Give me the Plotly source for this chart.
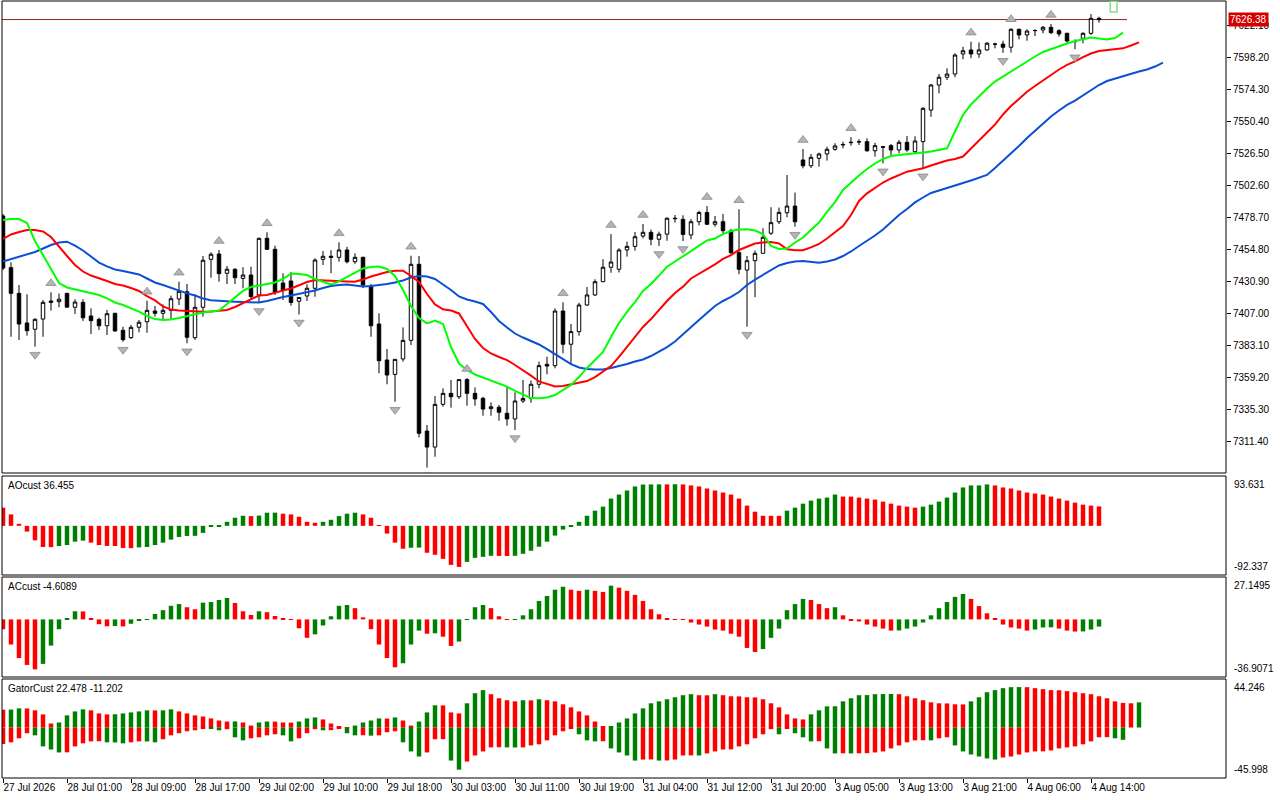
import plotly.graph_objects as go

# ---------------- data ----------------
time_labels = ["27 Jul 2026", "28 Jul 01:00", "28 Jul 09:00", "28 Jul 17:00", "29 Jul 02:00",
               "29 Jul 10:00", "29 Jul 18:00", "30 Jul 03:00", "30 Jul 11:00", "30 Jul 19:00",
               "31 Jul 04:00", "31 Jul 12:00", "31 Jul 20:00", "3 Aug 05:00", "3 Aug 13:00",
               "3 Aug 21:00", "4 Aug 06:00", "4 Aug 14:00"]
label_bars = list(range(0, 137, 8))

opens = [7479.7, 7441.1, 7421.9, 7399.8, 7395.1, 7402.7, 7416.2, 7415.7, 7421.9, 7411.5,
         7415.2, 7405.0, 7402.5, 7397.7, 7407.0, 7394.3, 7388.8, 7396.6, 7400.7, 7408.7,
         7407.0, 7409.2, 7417.7, 7423.1, 7388.8, 7411.5, 7447.3, 7451.3, 7436.9, 7439.9,
         7433.1, 7435.6, 7420.7, 7463.0, 7454.8, 7429.6, 7431.1, 7416.0, 7419.9, 7425.7,
         7447.3, 7449.6, 7448.8, 7454.3, 7445.5, 7448.8, 7427.4, 7399.0, 7372.1, 7361.4,
         7372.9, 7386.8, 7443.6, 7319.1, 7307.1, 7339.0, 7347.2, 7344.7, 7357.5, 7347.2,
         7343.5, 7335.8, 7336.8, 7332.3, 7328.1, 7341.5, 7343.4, 7354.0, 7368.9, 7367.9,
         7408.7, 7383.9, 7393.3, 7413.2, 7420.7, 7430.6, 7441.4, 7439.9, 7454.3, 7457.0,
         7464.7, 7467.5, 7462.3, 7466.1, 7478.0, 7477.2, 7465.5, 7475.4, 7482.3, 7473.5,
         7475.4, 7468.7, 7452.3, 7439.3, 7446.3, 7451.8, 7466.8, 7475.4, 7482.1, 7487.1,
         7521.5, 7517.2, 7522.8, 7526.0, 7529.5, 7532.7, 7534.4, 7535.2, 7535.2, 7528.4,
         7531.4, 7532.2, 7529.0, 7534.7, 7527.7, 7535.2, 7558.8, 7577.5, 7583.3, 7585.7,
         7600.7, 7603.7, 7600.7, 7603.7, 7608.1, 7608.1, 7605.7, 7619.1, 7614.9, 7618.1,
         7618.6, 7620.6, 7618.1, 7616.1, 7609.9, 7612.4, 7616.1, 7627.3]
highs = [7481.2, 7445.1, 7428.1, 7421.2, 7403.3, 7416.9, 7422.7, 7421.8, 7422.4, 7417.5,
         7417.5, 7410.7, 7403.7, 7409.5, 7407.3, 7397.0, 7398.3, 7402.0, 7416.4, 7412.5,
         7413.7, 7420.2, 7430.6, 7428.9, 7421.2, 7449.8, 7452.6, 7454.3, 7442.3, 7440.6,
         7441.4, 7441.8, 7463.5, 7467.5, 7457.5, 7436.9, 7437.9, 7419.0, 7428.7, 7448.1,
         7453.5, 7454.1, 7460.0, 7456.7, 7451.8, 7449.3, 7428.9, 7407.0, 7380.3, 7372.6,
         7396.5, 7450.0, 7449.8, 7323.6, 7345.2, 7351.0, 7357.2, 7357.7, 7358.7, 7351.7,
         7344.7, 7340.5, 7338.5, 7352.2, 7348.0, 7357.2, 7356.8, 7370.9, 7374.6, 7410.7,
         7415.2, 7399.0, 7414.9, 7426.6, 7432.4, 7447.4, 7466.2, 7455.6, 7460.5, 7467.7,
         7473.7, 7469.6, 7468.0, 7478.7, 7480.4, 7480.2, 7477.4, 7483.6, 7487.1, 7479.7,
         7481.2, 7470.1, 7484.7, 7449.8, 7453.9, 7470.5, 7486.2, 7486.0, 7510.3, 7497.1,
         7529.7, 7526.0, 7527.0, 7531.4, 7534.0, 7535.2, 7538.5, 7537.0, 7537.7, 7534.4,
         7532.0, 7533.5, 7536.4, 7539.4, 7539.2, 7560.9, 7578.3, 7585.7, 7590.0, 7601.2,
         7606.1, 7609.9, 7609.3, 7609.6, 7609.1, 7610.6, 7619.9, 7619.7, 7619.1, 7619.0,
         7621.6, 7623.1, 7619.1, 7616.6, 7611.6, 7616.9, 7630.5, 7628.5]
lows = [7439.3, 7389.5, 7387.1, 7390.3, 7382.1, 7389.5, 7409.0, 7411.5, 7411.3, 7406.5,
        7401.3, 7391.5, 7394.5, 7390.8, 7393.3, 7385.8, 7387.8, 7392.8, 7392.5, 7404.5,
        7402.7, 7402.0, 7413.2, 7384.6, 7387.1, 7404.5, 7433.6, 7430.6, 7428.9, 7428.9,
        7425.7, 7418.2, 7414.7, 7454.3, 7420.7, 7416.9, 7412.7, 7406.1, 7416.2, 7419.4,
        7443.1, 7436.9, 7445.5, 7444.3, 7444.0, 7425.9, 7389.5, 7362.2, 7354.0, 7341.0,
        7370.9, 7383.3, 7314.4, 7291.8, 7299.9, 7337.2, 7336.5, 7343.0, 7338.0, 7338.0,
        7330.5, 7330.5, 7326.8, 7323.1, 7319.8, 7340.0, 7340.2, 7351.0, 7361.4, 7365.9,
        7377.1, 7369.1, 7390.3, 7412.5, 7419.9, 7430.3, 7437.3, 7437.5, 7449.3, 7453.8,
        7463.0, 7457.8, 7457.3, 7461.2, 7474.8, 7461.0, 7462.3, 7472.6, 7473.0, 7471.7,
        7466.8, 7450.4, 7436.2, 7397.0, 7419.0, 7451.5, 7465.5, 7473.7, 7478.7, 7471.7,
        7515.3, 7515.5, 7516.5, 7521.0, 7528.4, 7530.2, 7532.2, 7532.7, 7527.7, 7524.0,
        7519.0, 7525.2, 7526.5, 7527.7, 7526.5, 7515.3, 7553.8, 7571.3, 7581.3, 7583.3,
        7596.7, 7597.5, 7597.8, 7603.1, 7604.9, 7601.6, 7601.7, 7611.6, 7610.6, 7614.1,
        7616.1, 7615.6, 7613.6, 7609.1, 7604.2, 7608.7, 7614.9, 7624.0]
closes = [7440.8, 7421.9, 7399.0, 7394.0, 7402.5, 7415.2, 7415.2, 7417.5, 7411.6, 7415.4,
          7403.7, 7401.5, 7397.7, 7406.7, 7393.8, 7387.3, 7396.5, 7400.3, 7409.2, 7407.0,
          7409.2, 7417.9, 7423.4, 7389.1, 7411.5, 7446.6, 7451.1, 7436.6, 7439.9, 7433.6,
          7435.6, 7419.4, 7463.0, 7454.8, 7422.5, 7424.4, 7415.1, 7418.8, 7425.7, 7446.8,
          7449.6, 7448.8, 7454.3, 7445.5, 7448.8, 7428.1, 7397.7, 7371.6, 7360.9, 7372.6,
          7386.8, 7443.6, 7317.4, 7307.1, 7339.0, 7347.2, 7344.7, 7357.5, 7347.2, 7343.0,
          7335.5, 7337.2, 7333.1, 7328.1, 7341.5, 7343.4, 7354.0, 7367.9, 7367.6, 7408.7,
          7383.9, 7393.3, 7413.2, 7420.7, 7430.6, 7441.4, 7445.3, 7454.3, 7457.0, 7464.2,
          7467.5, 7462.3, 7466.1, 7478.0, 7477.7, 7465.9, 7475.4, 7482.3, 7473.5, 7475.4,
          7468.7, 7452.3, 7439.9, 7446.3, 7451.8, 7463.8, 7474.7, 7482.4, 7487.1, 7475.4,
          7517.2, 7523.5, 7526.0, 7529.5, 7532.0, 7533.1, 7534.7, 7535.0, 7528.4, 7532.2,
          7531.0, 7529.0, 7534.7, 7529.0, 7535.7, 7560.1, 7577.5, 7583.3, 7585.7, 7599.9,
          7603.1, 7600.7, 7603.7, 7608.7, 7608.0, 7605.7, 7619.1, 7614.9, 7617.8, 7618.2,
          7620.6, 7616.6, 7615.6, 7610.4, 7610.0, 7616.1, 7627.3, 7626.38]

# Alligator lines (shifted forward, so they extend beyond the last bar)
lips = [7476.7, 7477.4, 7477.4, 7474.4, 7461.0, 7450.5, 7440.8, 7429.6, 7426.3, 7424.8,
        7423.7, 7422.2, 7420.7, 7418.1, 7415.1, 7413.2, 7410.6, 7408.3, 7405.0, 7402.7,
        7402.0, 7402.4, 7403.5, 7405.0, 7406.5, 7407.6, 7408.3, 7409.1, 7414.0, 7419.2,
        7423.7, 7426.6, 7427.8, 7428.7, 7430.0, 7432.6, 7436.7, 7436.4, 7435.6, 7432.6,
        7430.4, 7428.5, 7430.8, 7434.1, 7437.5, 7440.5, 7441.6, 7442.0, 7440.1, 7434.9,
        7424.4, 7412.5, 7403.5, 7399.5, 7401.6, 7399.0, 7381.8, 7369.5, 7364.7, 7361.3,
        7359.1, 7356.8, 7355.0, 7352.3, 7349.0, 7346.4, 7343.7, 7343.5, 7344.1, 7346.0,
        7349.7, 7353.5, 7359.4, 7366.2, 7372.1, 7378.1, 7389.3, 7399.8, 7408.0, 7415.4,
        7423.7, 7428.9, 7435.2, 7441.8, 7445.7, 7449.4, 7453.5, 7457.6, 7461.4, 7462.9,
        7466.2, 7468.5, 7469.6, 7469.7, 7468.8, 7466.2, 7457.3, 7455.0, 7455.4, 7459.9,
        7463.6, 7469.2, 7474.8, 7482.7, 7490.1, 7499.1, 7504.7, 7509.9, 7514.8, 7518.9,
        7522.2, 7524.5, 7525.2, 7526.0, 7526.7, 7527.1, 7527.8, 7529.0, 7530.2, 7542.8,
        7555.1, 7563.0, 7569.3, 7574.9, 7580.1, 7583.9, 7587.6, 7591.0, 7594.7, 7598.8,
        7602.2, 7604.4, 7606.3, 7608.5, 7610.4, 7611.9, 7613.0, 7612.2, 7611.5, 7612.6,
        7616.6]
teeth = [7462.5, 7465.9, 7467.7, 7469.2, 7469.2, 7468.1, 7464.0, 7456.5, 7449.8, 7443.1,
         7438.2, 7435.2, 7433.4, 7431.1, 7428.9, 7427.8, 7425.9, 7423.7, 7419.9, 7416.6,
         7412.1, 7409.8, 7409.1, 7408.7, 7408.3, 7408.2, 7408.3, 7408.7, 7409.5, 7411.7,
         7414.7, 7417.7, 7420.3, 7420.7, 7422.5, 7424.0, 7425.5, 7428.1, 7430.4, 7431.9,
         7431.5, 7431.1, 7430.9, 7430.8, 7430.6, 7432.2, 7434.5, 7436.4, 7437.9, 7438.8,
         7438.8, 7434.9, 7430.4, 7421.4, 7413.6, 7410.0, 7409.1, 7406.9, 7397.0, 7387.8,
         7381.1, 7377.0, 7374.4, 7372.1, 7368.4, 7364.7, 7360.5, 7356.1, 7354.2, 7352.3,
         7352.7, 7353.8, 7355.0, 7356.4, 7359.4, 7363.2, 7367.6, 7374.4, 7381.8, 7389.3,
         7396.8, 7402.7, 7409.5, 7416.2, 7422.2, 7426.9, 7433.0, 7436.4, 7439.7, 7443.5,
         7447.6, 7450.5, 7454.3, 7456.7, 7459.1, 7459.9, 7460.3, 7459.1, 7454.8, 7454.1,
         7454.1, 7456.2, 7458.8, 7462.9, 7467.4, 7472.2, 7480.4, 7490.9, 7496.6, 7501.0,
         7504.7, 7507.7, 7510.3, 7512.8, 7514.0, 7515.3, 7517.4, 7519.3, 7521.1, 7522.2,
         7524.1, 7530.1, 7536.1, 7541.7, 7548.0, 7555.5, 7561.8, 7567.1, 7572.5, 7576.8,
         7580.9, 7585.0, 7589.1, 7592.5, 7595.1, 7598.4, 7601.0, 7602.9, 7603.4, 7604.0,
         7604.9, 7607.0, 7609.4]
jaw = [7445.7, 7447.6, 7449.4, 7451.1, 7452.8, 7455.4, 7458.0, 7459.9, 7460.5, 7457.6,
       7453.9, 7449.4, 7444.9, 7442.0, 7439.7, 7438.6, 7437.5, 7436.0, 7433.0, 7430.0,
       7428.1, 7425.9, 7424.0, 7421.9, 7420.3, 7418.1, 7416.7, 7416.2, 7416.0, 7415.7,
       7415.4, 7415.2, 7415.1, 7416.2, 7417.9, 7419.2, 7420.3, 7421.4, 7422.5, 7424.0,
       7425.9, 7427.4, 7428.1, 7428.5, 7427.8, 7427.0, 7427.4, 7427.9, 7428.9, 7430.0,
       7431.5, 7433.7, 7434.9, 7434.5, 7432.6, 7428.5, 7424.4, 7419.6, 7417.3, 7415.8,
       7414.0, 7408.0, 7401.3, 7396.4, 7391.9, 7388.9, 7386.3, 7383.7, 7380.3, 7376.6,
       7372.9, 7369.1, 7366.5, 7365.4, 7365.0, 7365.0, 7366.2, 7367.6, 7369.1, 7371.0,
       7372.5, 7375.1, 7378.5, 7381.8, 7385.9, 7391.5, 7396.8, 7402.0, 7407.2, 7412.5,
       7416.2, 7419.2, 7422.9, 7428.1, 7432.2, 7435.6, 7439.0, 7442.7, 7444.6, 7445.7,
       7446.1, 7445.3, 7444.8, 7445.7, 7447.2, 7449.8, 7453.2, 7457.3, 7461.0, 7465.1,
       7469.6, 7475.2, 7480.4, 7484.9, 7489.8, 7493.5, 7496.9, 7498.7, 7500.4, 7502.5,
       7504.3, 7506.2, 7508.1, 7510.3, 7515.5, 7520.8, 7526.4, 7532.0, 7537.9, 7543.5,
       7548.8, 7554.0, 7558.5, 7562.6, 7565.9, 7569.7, 7573.8, 7577.5, 7580.5, 7582.4,
       7584.2, 7586.1, 7587.6, 7589.1, 7591.3, 7594.2]

fractal_up = [6, 18, 22, 27, 33, 42, 51, 58, 70, 76, 80, 88, 92, 100, 106, 121, 126, 131]
fractal_down = [4, 15, 23, 32, 37, 49, 53, 64, 82, 85, 93, 99, 110, 115, 125, 134]

ao = [34.2, 21.5, 3.8, -10.8, -27.2, -39.8, -40.0, -37.9, -36.0, -29.7,
      -27.8, -31.6, -36.0, -37.7, -37.9, -41.7, -42.0, -40.5, -39.8, -36.0,
      -31.6, -25.9, -20.9, -19.0, -18.8, -13.3, -1.9, -1.3, 7.6, 15.2,
      19.0, 18.3, 19.2, 24.7, 24.8, 22.8, 21.5, 17.1, 7.6, 5.7,
      7.6, 11.4, 18.3, 22.8, 24.7, 21.5, 15.2, 1.3, -14.5, -31.6,
      -43.0, -41.1, -40.9, -50.6, -54.4, -62.0, -73.4, -77.2, -67.7, -60.1,
      -58.2, -56.3, -56.5, -56.6, -56.3, -52.5, -46.8, -39.2, -29.7, -18.3,
      -7.0, -0.6, 7.6, 19.0, 28.5, 36.1, 51.2, 58.8, 66.4, 74.0,
      77.6, 77.8, 78.0, 77.9, 78.1, 77.8, 75.9, 74.0, 70.2, 66.4,
      62.6, 58.8, 51.2, 38.0, 26.6, 19.0, 18.9, 18.8, 28.5, 34.2,
      41.7, 47.4, 51.2, 53.1, 58.8, 55.0, 54.9, 53.1, 51.2, 49.3,
      45.5, 41.7, 38.0, 36.1, 34.2, 36.1, 39.8, 45.5, 53.1, 62.6,
      72.1, 75.9, 76.0, 77.8, 75.9, 72.1, 70.2, 66.4, 62.6, 60.7,
      58.8, 55.0, 51.2, 47.4, 43.6, 39.8, 38.0, 36.455]
ac = [-6.3, -16.1, -24.8, -29.2, -32.0, -28.5, -16.8, -6.3, 0.4, 5.2,
      5.1, 0.4, -3.1, -4.4, -4.2, -4.5, -2.8, -0.4, -0.2, 3.5,
      5.9, 8.7, 9.8, 7.8, 6.5, 10.7, 11.1, 12.4, 13.7, 10.5,
      5.2, 2.8, 5.2, 4.6, 2.2, 0.4, -0.2, -5.7, -11.8, -9.6,
      -3.9, 2.0, 8.7, 9.2, 7.2, 1.3, -6.3, -16.1, -24.8, -30.7,
      -28.1, -16.1, -7.2, -9.2, -8.9, -11.1, -17.0, -14.2, -0.2, 7.8,
      9.2, 7.2, 2.0, -0.2, -0.1, 2.6, 6.5, 11.8, 15.0, 19.0,
      20.9, 19.0, 18.3, 19.0, 18.3, 17.6, 21.6, 20.3, 18.3, 15.7,
      11.8, 6.5, 3.3, 0.4, -0.2, -0.3, -2.0, -3.3, -4.6, -6.5,
      -7.2, -9.2, -11.1, -18.3, -20.9, -19.0, -11.8, -5.9, 5.9, 9.8,
      13.1, 12.4, 9.8, 7.2, 7.8, 2.6, -0.4, -1.3, -3.3, -4.6,
      -5.9, -7.2, -7.1, -5.9, -4.6, -2.0, 2.6, 7.2, 11.1, 14.4,
      16.3, 13.1, 8.5, 3.9, 0.4, -3.3, -5.2, -5.9, -7.2, -6.5,
      -5.2, -5.1, -5.9, -7.2, -7.8, -7.7, -6.5, -4.6089]
gator_up = [16.3, 16.4, 17.5, 17.4, 15.7, 12.0, 3.7, 4.6, 11.1, 14.7,
            16.6, 15.7, 12.9, 12.0, 12.1, 12.9, 13.8, 14.7, 15.7, 15.6,
            15.7, 16.6, 14.7, 12.9, 11.1, 10.1, 8.3, 6.4, 5.5, 5.6,
            4.6, 1.8, 4.6, 5.5, 5.4, 4.6, 4.5, 5.5, 8.3, 9.2,
            7.4, 3.7, 0.6, 0.3, 1.8, 4.6, 6.4, 8.3, 8.2, 9.2,
            6.4, 1.8, 5.5, 13.8, 20.3, 20.2, 13.8, 12.9, 22.1, 31.3,
            34.1, 30.4, 26.7, 24.9, 23.9, 24.9, 24.8, 25.8, 24.9, 23.9,
            21.2, 18.4, 14.7, 11.1, 5.5, 0.9, 1.0, 4.6, 8.3, 12.9,
            17.5, 22.1, 23.9, 25.8, 27.6, 29.5, 30.4, 29.5, 29.4, 30.4,
            29.5, 28.5, 28.4, 27.6, 27.5, 25.8, 22.1, 18.4, 12.0, 8.3,
            7.4, 12.0, 15.7, 19.3, 19.4, 23.9, 26.7, 29.5, 29.6, 30.4,
            30.5, 30.6, 30.4, 28.5, 26.7, 24.9, 23.0, 22.1, 22.0, 21.2,
            21.1, 23.9, 27.6, 32.2, 34.1, 35.9, 36.8, 36.9, 36.8, 35.9,
            35.0, 34.1, 34.0, 33.2, 32.2, 31.3, 30.4, 28.5, 26.7, 23.9,
            22.478, 22.1, 23.0]
gator_down = [-15.0, -13.5, -9.8, -5.2, -7.1, -17.2, -20.0, -22.7, -22.6, -17.2,
              -14.4, -12.6, -12.5, -13.5, -13.6, -14.4, -13.5, -12.6, -12.7, -13.5,
              -10.7, -7.1, -5.2, -3.4, -2.5, -0.6, -0.7, -2.5, -1.5, -8.9,
              -11.7, -9.8, -8.9, -7.1, -6.1, -7.1, -12.6, -9.8, -5.2, -1.5,
              -2.5, -2.4, -0.6, -5.2, -7.1, -7.0, -7.4, -7.1, -4.3, -3.4,
              -13.5, -21.8, -26.4, -22.7, -10.7, -10.6, -30.1, -38.4, -31.0, -25.5,
              -21.8, -18.1, -18.0, -18.1, -18.2, -18.1, -16.3, -15.3, -11.7, -7.1,
              -3.4, -0.6, -6.1, -11.7, -12.6, -12.5, -19.0, -22.7, -25.5, -30.1,
              -29.2, -29.1, -30.1, -30.0, -29.2, -25.5, -25.4, -25.5, -23.6, -21.8,
              -20.0, -19.9, -17.2, -15.3, -9.8, -6.1, -1.5, -6.1, -0.6, -5.2,
              -8.9, -12.6, -12.5, -19.0, -23.6, -23.5, -23.6, -23.5, -23.4, -22.7,
              -21.8, -19.0, -16.3, -13.5, -11.7, -11.6, -11.7, -9.8, -8.9, -16.3,
              -21.8, -24.6, -26.4, -28.2, -29.2, -27.3, -26.4, -24.6, -22.7, -21.8,
              -21.7, -20.9, -19.0, -18.1, -17.2, -15.3, -12.6, -8.9, -8.8, -9.8,
              -11.202]

last_price = 7626.38
price_ticks = [7311.40, 7335.30, 7359.20, 7383.10, 7407.00, 7430.90, 7454.80, 7478.70,
               7502.60, 7526.50, 7550.40, 7574.30, 7598.20, 7622.10]
ao_scale = (-92.337, 93.631)
ac_scale = (-36.9071, 27.1495)
gator_scale = (-45.998, 44.246)

# ---------------- layout geometry ----------------
W, H = 1280, 800
ML, MR, MT, MB = 2, 54, 1, 22
PH = H - MT - MB


def dom(top_px, bot_px):
    return [(H - MB - bot_px) / PH, (H - MB - top_px) / PH]


d_main = dom(1, 473)
d_ao = dom(476, 575)
d_ac = dom(577, 677)
d_gt = dom(679, 778)

main_range = [7287.73, 7640.25]
price_per_px = (main_range[1] - main_range[0]) / ((d_main[1] - d_main[0]) * PH)

GREEN = "#008000"
RED = "#ff0000"
FONT = "Liberation Sans, Arial, sans-serif"


def updown_colors(vals, use_abs=False):
    cols = []
    for i, v in enumerate(vals):
        cur = abs(v) if use_abs else v
        prev = (abs(vals[i - 1]) if use_abs else vals[i - 1]) if i > 0 else None
        cols.append(GREEN if (prev is not None and cur > prev) else RED)
    return cols


bars = list(range(len(opens)))

fig = go.Figure()

fig.add_trace(go.Candlestick(
    x=bars, open=opens, high=highs, low=lows, close=closes,
    increasing=dict(line=dict(color="black", width=1), fillcolor="white"),
    decreasing=dict(line=dict(color="black", width=1), fillcolor="black"),
    whiskerwidth=0, hoverinfo="skip", xaxis="x", yaxis="y"))

fig.add_trace(go.Scatter(x=list(range(len(jaw))), y=jaw, mode="lines",
                         line=dict(color="#0b4fd6", width=2), hoverinfo="skip", yaxis="y"))
fig.add_trace(go.Scatter(x=list(range(len(teeth))), y=teeth, mode="lines",
                         line=dict(color="#ff0000", width=2), hoverinfo="skip", yaxis="y"))
fig.add_trace(go.Scatter(x=list(range(len(lips))), y=lips, mode="lines",
                         line=dict(color="#00ff00", width=2), hoverinfo="skip", yaxis="y"))

fig.add_trace(go.Scatter(
    x=fractal_up, y=[highs[i] + 9 * price_per_px for i in fractal_up], mode="markers",
    marker=dict(symbol="triangle-up", size=9, color="#b4b4b4",
                line=dict(color="#8a8a8a", width=0.8)),
    hoverinfo="skip", yaxis="y"))
fig.add_trace(go.Scatter(
    x=fractal_down, y=[lows[i] - 8 * price_per_px for i in fractal_down], mode="markers",
    marker=dict(symbol="triangle-down", size=9, color="#b4b4b4",
                line=dict(color="#8a8a8a", width=0.8)),
    hoverinfo="skip", yaxis="y"))

BW = 0.56
fig.add_trace(go.Bar(x=bars, y=ao, marker=dict(color=updown_colors(ao), line=dict(width=0)),
                     width=BW, hoverinfo="skip", yaxis="y2"))
fig.add_trace(go.Bar(x=bars, y=ac, marker=dict(color=updown_colors(ac), line=dict(width=0)),
                     width=BW, hoverinfo="skip", yaxis="y3"))
fig.add_trace(go.Bar(x=list(range(len(gator_up))), y=gator_up,
                     marker=dict(color=updown_colors(gator_up, True), line=dict(width=0)),
                     width=BW, hoverinfo="skip", yaxis="y4"))
fig.add_trace(go.Bar(x=list(range(len(gator_down))), y=gator_down,
                     marker=dict(color=updown_colors(gator_down, True), line=dict(width=0)),
                     width=BW, hoverinfo="skip", yaxis="y4"))

axis_font = dict(family=FONT, size=10, color="black")

fig.update_layout(
    width=W, height=H,
    margin=dict(l=ML, r=MR, t=MT, b=MB),
    paper_bgcolor="white", plot_bgcolor="white",
    showlegend=False, barmode="overlay", boxgap=0.38,
    font=axis_font,
    xaxis=dict(domain=[0, 1], range=[-0.125, 152.875], anchor="y4",
               tickmode="array", tickvals=label_bars, ticktext=time_labels,
               ticks="outside", ticklen=4, tickcolor="black", tickfont=axis_font,
               ticklabelposition="outside right",
               showgrid=False, zeroline=False, showline=False,
               rangeslider=dict(visible=False), fixedrange=True),
    yaxis=dict(domain=d_main, range=main_range, side="right", anchor="x",
               tickmode="array", tickvals=price_ticks, ticktext=[f"{v:.2f}" for v in price_ticks],
               ticks="outside", ticklen=4, tickcolor="black", tickfont=axis_font,
               showgrid=False, zeroline=False, showline=False, fixedrange=True),
    yaxis2=dict(domain=d_ao, range=list(ao_scale), anchor="x", showticklabels=False,
                showgrid=False, zeroline=False, ticks="", fixedrange=True),
    yaxis3=dict(domain=d_ac, range=list(ac_scale), anchor="x", showticklabels=False,
                showgrid=False, zeroline=False, ticks="", fixedrange=True),
    yaxis4=dict(domain=d_gt, range=list(gator_scale), anchor="x", showticklabels=False,
                showgrid=False, zeroline=False, ticks="", fixedrange=True),
)

shapes = []
for d in (d_main, d_ao, d_ac, d_gt):
    shapes.append(dict(type="rect", xref="paper", yref="paper", x0=0, x1=1, y0=d[0], y1=d[1],
                       line=dict(color="black", width=1), fillcolor="rgba(0,0,0,0)", layer="above"))
# bid line
shapes.append(dict(type="line", xref="x", yref="y", x0=-0.125, x1=140.5, y0=last_price, y1=last_price,
                   line=dict(color="#9b1c1c", width=1), layer="below"))
# small green object at top right of the price area
shapes.append(dict(type="rect", xref="x", yref="y", x0=138.4, x1=139.25, y0=7632.0, y1=7640.0,
                   line=dict(color="#86e086", width=1.5), fillcolor="rgba(0,0,0,0)"))
fig.update_layout(shapes=shapes)

ann = []
ann.append(dict(xref="paper", yref="y", x=1, y=last_price, xanchor="left", yanchor="middle",
                xshift=2, text=f"{last_price:.2f}", showarrow=False,
                font=dict(family=FONT, size=10, color="white"), bgcolor="#d40000", borderpad=1))
for yref, name, scale in (("y2", "AOcust 36.455", ao_scale),
                          ("y3", "ACcust -4.6089", ac_scale),
                          ("y4", "GatorCust 22.478 -11.202", gator_scale)):
    ann.append(dict(xref="paper", yref=f"{yref} domain", x=0, y=1, xanchor="left", yanchor="top",
                    xshift=4, yshift=-2, text=name, showarrow=False, font=axis_font))
    ann.append(dict(xref="paper", yref=f"{yref} domain", x=1, y=1, xanchor="left", yanchor="top",
                    xshift=6, yshift=-1, text=f"{scale[1]:g}", showarrow=False, font=axis_font))
    ann.append(dict(xref="paper", yref=f"{yref} domain", x=1, y=0, xanchor="left", yanchor="bottom",
                    xshift=6, yshift=1, text=f"{scale[0]:g}", showarrow=False, font=axis_font))
fig.update_layout(annotations=ann)

fig.write_html("out.html", config={"displayModeBar": False},
               post_script="document.body.style.margin='0px';document.body.style.overflow='hidden';")
